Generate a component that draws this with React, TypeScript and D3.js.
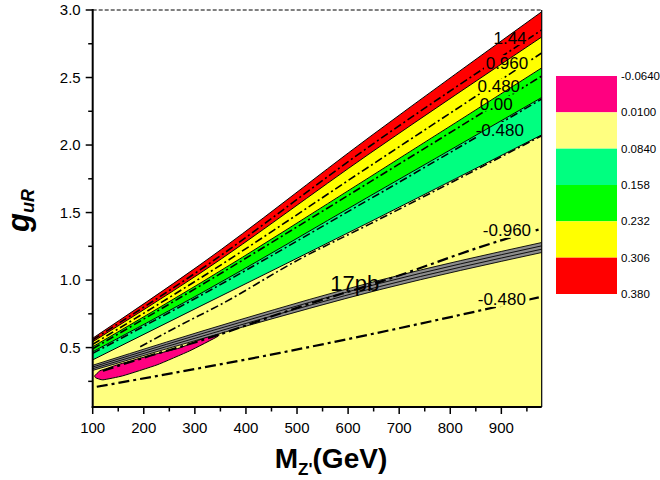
import React from 'react';
import * as d3 from 'd3';

// ---------- data ----------
const massGrid = [100, 310, 643, 979];
// band boundaries g_uR(M) for the filled contour levels
const edge380 = [0.569, 1.113, 2.062, 2.987];
const edge306 = [0.543, 1.05, 1.939, 2.8];
const edge232 = [0.506, 0.976, 1.764, 2.571];
const edge158 = [0.469, 0.898, 1.623, 2.352];
const edge084 = [0.409, 0.805, 1.431, 2.075];

const levelLabels = ['-0.0640', '0.0100', '0.0840', '0.158', '0.232', '0.306', '0.380'];
const levelColors = ['#FF0080', '#FFFF80', '#00FF80', '#00FF00', '#FFFF00', '#FF0000'];

// pink region (below -0.064..0.010)
const pinkM = [104, 114, 128, 148, 206, 271, 324, 345, 345, 290, 226, 159, 120, 106];
const pinkG = [0.291, 0.328, 0.346, 0.372, 0.435, 0.498, 0.58, 0.602, 0.583, 0.476, 0.372, 0.291, 0.261, 0.276];

// 17 pb cross-section band
const xsecM = [100, 388, 662, 979];
const xsecLow = [0.331, 0.646, 0.929, 1.204];
const xsecHigh = [0.369, 0.706, 0.999, 1.278];

// dash-dot contour lines
const line144M = massGrid;
const line144G = [0.557, 1.075, 1.993, 2.852];
const line096M = massGrid;
const line096G = [0.524, 1.013, 1.845, 2.682];
const line048M = massGrid;
const line048G = [0.491, 0.957, 1.727, 2.511];
const line000M = massGrid;
const line000G = [0.457, 0.883, 1.601, 2.341];
const lineM048aM = [193, 271, 349, 506, 643, 978];
const lineM048aG = [0.506, 0.665, 0.816, 1.157, 1.416, 2.067];
const lineM096M = [120, 212, 310, 506, 668, 903, 978];
const lineM096G = [0.328, 0.439, 0.55, 0.802, 0.994, 1.298, 1.379];
const lineM048bM = [108, 467, 864, 978];
const lineM048bG = [0.21, 0.461, 0.779, 0.876];

const contourTexts = ['1.44', '0.960', '0.480', '0.00', '-0.480', '-0.960', '-0.480'];
const contourTextM = [917, 911, 895, 890, 897, 911, 901];
const contourTextG = [2.796, 2.611, 2.437, 2.308, 2.115, 1.368, 0.857];
const xsecText = '17pb';
const xsecTextM = 613;
const xsecTextG = 0.979;

const xMajor = [100, 200, 300, 400, 500, 600, 700, 800, 900];
const xMinor = [150, 250, 350, 450, 550, 650, 750, 850, 950];
const yMajor = [0.5, 1.0, 1.5, 2.0, 2.5, 3.0];
const yMinor = [0.25, 0.75, 1.25, 1.75, 2.25, 2.75];

// ---------- layout ----------
const W = 660;
const H = 480;
const plot = { left: 92.7, right: 541.7, top: 10, bottom: 407 };
const font = 'Liberation Sans, Arial, Helvetica, sans-serif';

export default function App() {
  const x = d3.scaleLinear().domain([100, 979]).range([plot.left, plot.right]);
  const gMin = 0.06;
  const y = d3.scaleLinear().domain([gMin, 3.0]).range([plot.bottom, plot.top]);

  const areaPath = (Ms: number[], lo: number[], hi: number[]) =>
    d3
      .area<number>()
      .x((_, i) => x(Ms[i]))
      .y0((_, i) => y(lo[i]))
      .y1((_, i) => y(hi[i]))
      .curve(d3.curveMonotoneX)(Ms) as string;

  const linePath = (Ms: number[], Gs: number[]) =>
    d3
      .line<number>()
      .x((_, i) => x(Ms[i]))
      .y((_, i) => y(Gs[i]))
      .curve(d3.curveMonotoneX)(Ms) as string;

  const bottomArr = massGrid.map(() => gMin - 0.05);
  const bands = [
    { lo: bottomArr, hi: edge084, color: levelColors[1] },
    { lo: edge084, hi: edge158, color: levelColors[2] },
    { lo: edge158, hi: edge232, color: levelColors[3] },
    { lo: edge232, hi: edge306, color: levelColors[4] },
    { lo: edge306, hi: edge380, color: levelColors[5] },
  ];
  const edges = [edge084, edge158, edge232, edge306, edge380];

  const pinkPath = d3
    .line<number>()
    .x((_, i) => x(pinkM[i]))
    .y((_, i) => y(pinkG[i]))
    .curve(d3.curveCardinalClosed.tension(0.6))(pinkM) as string;

  const xsecLines = [0, 1 / 3, 2 / 3, 1].map((f) =>
    xsecLow.map((lo, i) => lo + f * (xsecHigh[i] - lo))
  );

  const upperLines = [
    { M: line144M, G: line144G },
    { M: line096M, G: line096G },
    { M: line048M, G: line048G },
    { M: line000M, G: line000G },
    { M: lineM048aM, G: lineM048aG },
  ];
  const lowerLines = [
    { M: lineM096M, G: lineM096G },
    { M: lineM048bM, G: lineM048bG },
  ];

  const labelFs = 17;
  const labelBoxes = contourTexts.map((t, i) => {
    const w = t.length * labelFs * 0.54;
    return { x: x(contourTextM[i]) - w / 2, y: y(contourTextG[i]) - 7.5, w, h: 15 };
  });

  const legend = { x: 556, y: 76, w: 61, h: 218 };
  const boxH = legend.h / 6;

  return (
    <svg
      width={W}
      height={H}
      style={{ position: 'absolute', left: 0, top: 0, background: '#fff' }}
      fontFamily={font}
    >
      <defs>
        <clipPath id="plotClip">
          <rect x={plot.left} y={plot.top} width={plot.right - plot.left} height={plot.bottom - plot.top} />
        </clipPath>
        <mask id="labelMask" maskUnits="userSpaceOnUse" x={0} y={0} width={W} height={H}>
          <rect x={0} y={0} width={W} height={H} fill="#fff" />
          {labelBoxes.map((b, i) => (
            <rect key={i} x={b.x} y={b.y} width={b.w} height={b.h} fill="#000" />
          ))}
        </mask>
      </defs>

      <g clipPath="url(#plotClip)">
        {bands.map((b, i) => (
          <path key={i} d={areaPath(massGrid, b.lo, b.hi)} fill={b.color} stroke="none" />
        ))}
        {edges.map((e, i) => (
          <path key={i} d={linePath(massGrid, e)} fill="none" stroke="#000" strokeWidth={1} />
        ))}
        <path d={pinkPath} fill={levelColors[0]} stroke="#000" strokeWidth={1} />
        <path d={areaPath(xsecM, xsecLow, xsecHigh)} fill="#8c8c8c" stroke="none" />
        {xsecLines.map((g, i) => (
          <path key={i} d={linePath(xsecM, g)} fill="none" stroke="#000" strokeWidth={0.9} />
        ))}
        <g mask="url(#labelMask)">
          {upperLines.map((l, i) => (
            <path
              key={i}
              d={linePath(l.M, l.G)}
              fill="none"
              stroke="#000"
              strokeWidth={1.6}
              strokeDasharray="8 3 2 3"
            />
          ))}
          {lowerLines.map((l, i) => (
            <path
              key={i}
              d={linePath(l.M, l.G)}
              fill="none"
              stroke="#000"
              strokeWidth={2.2}
              strokeDasharray="11 4 3 4"
            />
          ))}
        </g>
      </g>

      {/* frame */}
      <line x1={plot.left} x2={plot.right} y1={plot.top} y2={plot.top} stroke="#000" strokeWidth={1} strokeDasharray="4 2" />
      <line x1={plot.right} x2={plot.right} y1={plot.top} y2={plot.bottom} stroke="#000" strokeWidth={1.2} />
      <line x1={plot.left} x2={plot.left} y1={plot.top - 1} y2={plot.bottom + 1} stroke="#000" strokeWidth={2} />
      <line x1={plot.left - 1} x2={plot.right} y1={plot.bottom} y2={plot.bottom} stroke="#000" strokeWidth={2} />

      {/* contour labels */}
      {contourTexts.map((t, i) => (
        <text
          key={i}
          x={x(contourTextM[i])}
          y={y(contourTextG[i])}
          dy="0.36em"
          textAnchor="middle"
          fontSize={labelFs}
          fill="#000"
        >
          {t}
        </text>
      ))}
      <text x={x(xsecTextM)} y={y(xsecTextG)} dy="0.36em" textAnchor="middle" fontSize={22} fill="#000">
        {xsecText}
      </text>

      {/* y axis ticks */}
      {yMajor.map((v) => (
        <g key={v}>
          <line x1={plot.left - 7} x2={plot.left} y1={y(v)} y2={y(v)} stroke="#000" strokeWidth={1.5} />
          <text x={plot.left - 12} y={y(v)} dy="0.36em" textAnchor="end" fontSize={15} fill="#000">
            {v.toFixed(1)}
          </text>
        </g>
      ))}
      {yMinor.map((v) => (
        <line key={v} x1={plot.left - 4.5} x2={plot.left} y1={y(v)} y2={y(v)} stroke="#000" strokeWidth={1.5} />
      ))}

      {/* x axis ticks */}
      {xMajor.map((v) => (
        <g key={v}>
          <line x1={x(v)} x2={x(v)} y1={plot.bottom} y2={plot.bottom + 7} stroke="#000" strokeWidth={1.5} />
          <text x={x(v)} y={plot.bottom + 26} textAnchor="middle" fontSize={15} fill="#000">
            {v}
          </text>
        </g>
      ))}
      {xMinor.map((v) => (
        <line key={v} x1={x(v)} x2={x(v)} y1={plot.bottom} y2={plot.bottom + 4.5} stroke="#000" strokeWidth={1.5} />
      ))}

      {/* axis titles */}
      <text x={331} y={468} textAnchor="middle" fontSize={28} fontWeight="bold" fill="#000">
        M
        <tspan fontSize={17} dy={7}>
          Z'
        </tspan>
        <tspan fontSize={28} dy={-7}>
          (GeV)
        </tspan>
      </text>
      <text
        transform="translate(29,232) rotate(-90)"
        fontSize={31}
        fontWeight="bold"
        fontStyle="italic"
        fill="#000"
      >
        g
        <tspan fontSize={18} dy={5}>
          uR
        </tspan>
      </text>

      {/* legend */}
      {levelColors.map((c, i) => (
        <rect key={c} x={legend.x} y={legend.y + i * boxH} width={legend.w} height={boxH} fill={c} />
      ))}
      {levelLabels.map((t, i) => (
        <text key={i} x={legend.x + legend.w + 4} y={legend.y + i * boxH} dy="0.36em" fontSize={11.5} fill="#000">
          {t}
        </text>
      ))}
    </svg>
  );
}
